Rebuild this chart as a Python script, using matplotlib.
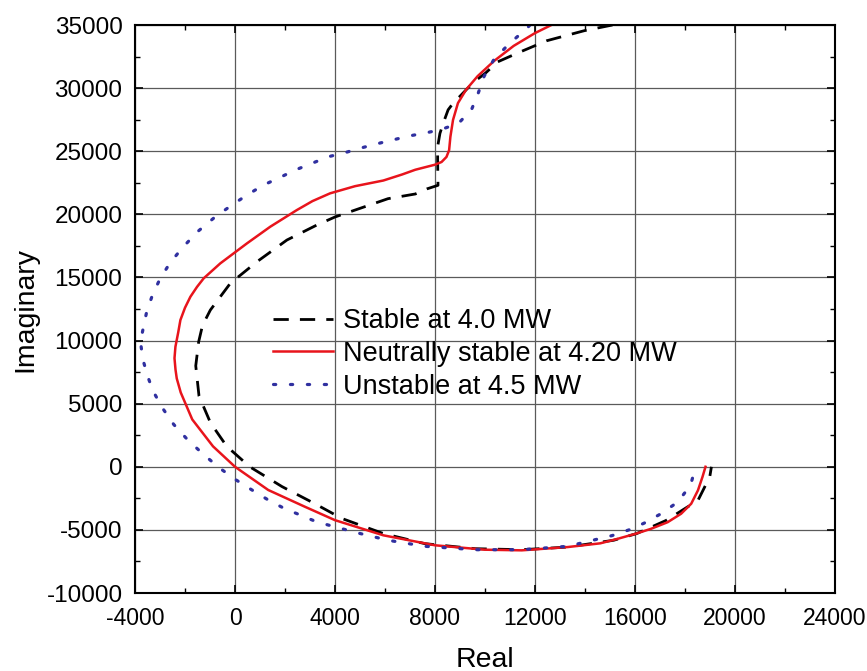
import matplotlib
matplotlib.use("Agg")
import matplotlib.pyplot as plt
from matplotlib.ticker import MultipleLocator

plt.rcParams['font.family'] = ['Liberation Sans', 'DejaVu Sans']
plt.rcParams['axes.unicode_minus'] = False

# Stable at 4.0 MW (dashed black)
stable_re = [15100, 13967, 12459, 11344, 10492, 10033, 9530, 8700, 8525, 8328, 8197,
             8105, 8105, 8120, 7672, 7213, 6120, 4000, 3273, 2874, 2076, 878, -188,
             -986, -1300, -1453, -1570, -1440, -980, -330, 590, 1880, 3170, 4280, 5935,
             7590, 9620, 11460, 13310, 15150, 16070, 17239, 18519, 18990, 19057]
stable_im = [35000, 34547, 33747, 32813, 32067, 31213, 30450, 28740, 28280, 27213, 26413,
             25347, 24280, 22300, 22013, 21613, 21240, 19790, 19152, 18756, 17964, 16244, 14533,
             12417, 11200, 9906, 8000, 5610, 3480, 1620, 0, -1570, -2900, -4100, -5290,
             -6090, -6490, -6570, -6360, -5820, -5290, -4255, -2660, -800, 0]

# Neutrally stable at 4.20 MW (solid red)
neutral_re = [12656, 12000, 11148, 10360, 9705, 9246, 8918, 8721, 8616, 8564, 8459,
              8262, 8000, 7213, 6689, 5935, 4800, 3804, 3100, 2475, 1409, 479, -587,
              -1253, -1520, -1784, -2000, -2184, -2270, -2383, -2420, -2380, -2330, -2170,
              -1710, -880, 0, 1330, 2800, 4000, 5935, 8000, 9990, 11470, 13310,
              14613, 15286, 16000, 16633, 17306, 17845, 18249, 18519, 18700, 18820]
neutral_im = [35000, 34360, 33347, 32147, 30947, 29880, 28813, 27480, 26147, 25080, 24547,
              24147, 23933, 23533, 23160, 22680, 22230, 21664, 21050, 20340, 19017, 17700, 16117,
              14929, 14250, 13470, 12600, 11625, 10660, 9510, 8600, 7700, 7000, 5880,
              3750, 1620, 0, -1840, -3170, -4230, -5430, -6220, -6570, -6620, -6360,
              -6064, -5718, -5320, -4920, -4390, -3720, -2926, -1862, -798, 0]

# Unstable at 4.5 MW (dotted blue)
unstable_re = [11800, 11672, 10951, 10361, 9967, 9731, 9469, 8944, 8262, 7672, 7016,
               6300, 5660, 5010, 4370, 3737, 3073, 2408, 1808, 1142, 479, -120,
               -786, -1453, -2092, -2611, -3010, -3313, -3541, -3673, -3780, -3690,
               -3500, -3280, -2910, -2450, -1900, -1250, -610, 40, 680, 1330, 1970,
               2620, 3260, 4000, 5010, 6120, 7590, 9620, 11460, 13310, 15084, 15758,
               16364, 17037, 17710, 18222, 18424]
unstable_im = [35000, 34733, 33480, 32280, 30947, 29613, 28333, 27213, 26733, 26467, 26227,
               25890, 25580, 25240, 24870, 24565, 24038, 23510, 22933, 22322, 21530, 20737,
               19810, 18700, 17385, 16117, 14849, 13550, 12203, 10966, 9906, 8540,
               7210, 6010, 4680, 3350, 2150, 960, -110, -1040, -1840, -2630, -3300,
               -3830, -4360, -4760, -5290, -5820, -6300, -6570, -6570, -6300, -5452, -5000,
               -4468, -3723, -2793, -1463, 0]

labels = ["Stable at 4.0 MW", "Neutrally stable at 4.20 MW", "Unstable at 4.5 MW"]

W, H = 867, 671
fig = plt.figure(figsize=(W / 100, H / 100), dpi=100)
ax = fig.add_axes([135 / W, 1 - 593 / H, 700 / W, 568 / H])

ax.plot(stable_re, stable_im, color='black', lw=2.0, ls=(0, (5.5, 4)),
        solid_joinstyle='round', label=labels[0])
ax.plot(neutral_re, neutral_im, color='#e8141c', lw=1.8, ls='-', solid_joinstyle='round',
        label=labels[1])
ax.plot(unstable_re, unstable_im, color='#3030a0', lw=2.3, ls=(0, (0.7, 4.6)),
        dash_capstyle='round', label=labels[2])

ax.set_xlim(-4000, 24000)
ax.set_ylim(-10000, 35000)
ax.xaxis.set_major_locator(MultipleLocator(4000))
ax.xaxis.set_minor_locator(MultipleLocator(2000))
ax.yaxis.set_major_locator(MultipleLocator(5000))
ax.yaxis.set_minor_locator(MultipleLocator(2500))
ax.grid(True, which='major', color='#5a5a5a', lw=0.9)
ax.set_axisbelow(True)
ax.tick_params(which='both', direction='in', top=True, right=True, colors='black')
ax.tick_params(axis='x', labelsize=16.5, pad=10)
ax.tick_params(axis='y', labelsize=17.5, pad=9)
ax.tick_params(which='major', length=6, width=1.2)
ax.tick_params(which='minor', length=3.5, width=1.0)
for s in ax.spines.values():
    s.set_linewidth(1.5)

ax.set_xlabel("Real", fontsize=20.5, labelpad=12)
ax.set_ylabel("Imaginary", fontsize=20.5, labelpad=6)

leg = ax.legend(loc='upper left', bbox_to_anchor=(273 / W, 1 - 308 / H),
                bbox_transform=fig.transFigure, frameon=False,
                fontsize=19.5, handlelength=2.2, handletextpad=0.4, labelspacing=0.25,
                borderpad=0.0, borderaxespad=0.0)

fig.savefig("out.png", dpi=100)
